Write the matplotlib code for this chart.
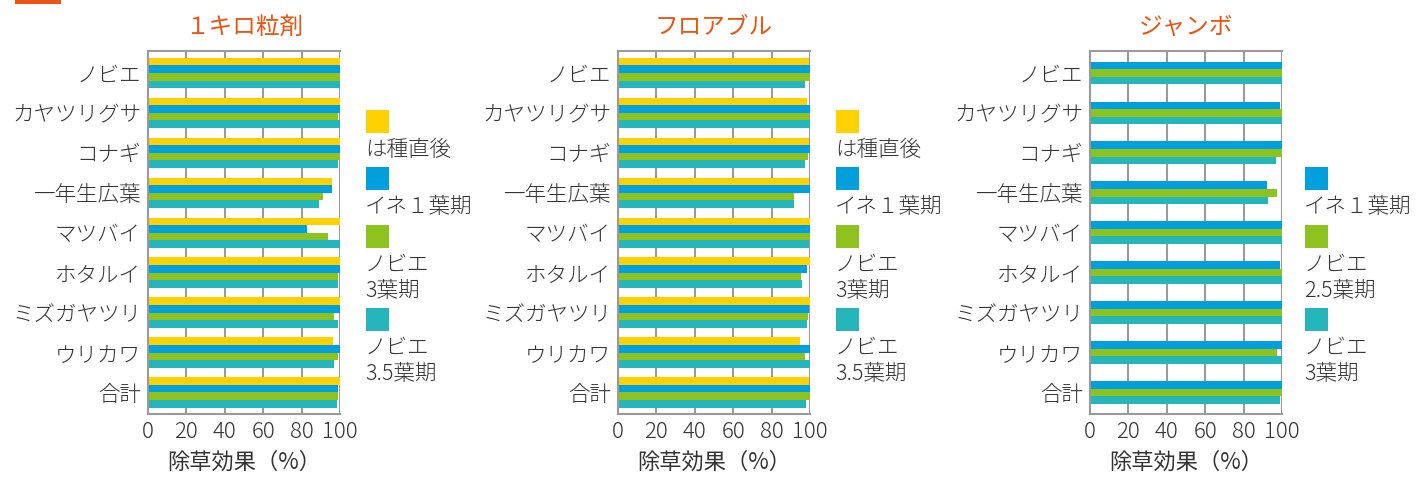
import matplotlib
matplotlib.use("Agg")
import matplotlib.pyplot as plt
from matplotlib.patches import Rectangle

plt.rcParams['font.family'] = ['Noto Sans CJK JP', 'DejaVu Sans']
plt.rcParams['font.weight'] = 'light'

W, H = 1418, 483

CATEGORIES = ["ノビエ", "カヤツリグサ", "コナギ", "一年生広葉", "マツバイ",
              "ホタルイ", "ミズガヤツリ", "ウリカワ", "合計"]

TITLES = ["１キロ粒剤", "フロアブル", "ジャンボ"]

# 除草効果 (%)
KIRO_SOWING = [100, 100, 100, 95.8, 100, 100, 100, 96.4, 100]
KIRO_RICE1 = [100, 100, 100, 95.8, 82.8, 100, 100, 100, 99]
KIRO_NOBIE3 = [100, 99, 100, 91.1, 93.8, 99, 96.9, 99, 99]
KIRO_NOBIE35 = [100, 100, 99, 89.1, 100, 99, 99, 96.9, 98.4]

FLOW_SOWING = [99.5, 98.4, 99.5, 99.5, 100, 100, 100, 94.8, 99.5]
FLOW_RICE1 = [100, 100, 100, 100, 100, 98.4, 99.5, 100, 100]
FLOW_NOBIE3 = [100, 99.5, 99, 91.7, 100, 95.3, 99, 97.4, 100]
FLOW_NOBIE35 = [97.4, 100, 97.4, 91.7, 99.5, 95.8, 98.4, 100, 97.9]

JUMBO_RICE1 = [100, 99, 100, 92.2, 100, 99, 100, 100, 100]
JUMBO_NOBIE25 = [100, 100, 100, 97.4, 100, 100, 100, 97.4, 100]
JUMBO_NOBIE3 = [100, 100, 96.9, 92.7, 100, 100, 100, 100, 99]

LEG_KIRO = [["は種直後"], ["イネ１葉期"], ["ノビエ", "3葉期"], ["ノビエ", "3.5葉期"]]
LEG_FLOW = [["は種直後"], ["イネ１葉期"], ["ノビエ", "3葉期"], ["ノビエ", "3.5葉期"]]
LEG_JUMBO = [["イネ１葉期"], ["ノビエ", "2.5葉期"], ["ノビエ", "3葉期"]]

XTICKS = [0, 20, 40, 60, 80, 100]
XLABEL = "除草効果（%）"

YELLOW = "#FFD100"
BLUE = "#00A0DF"
GREEN = "#8DC21F"
TEAL = "#24B6BB"
ORANGE = "#E95513"
TEXT = "#333333"
GRID = "#9A9A9A"

panels = [
    (148, [KIRO_SOWING, KIRO_RICE1, KIRO_NOBIE3, KIRO_NOBIE35], [YELLOW, BLUE, GREEN, TEAL], LEG_KIRO),
    (618, [FLOW_SOWING, FLOW_RICE1, FLOW_NOBIE3, FLOW_NOBIE35], [YELLOW, BLUE, GREEN, TEAL], LEG_FLOW),
    (1090, [JUMBO_RICE1, JUMBO_NOBIE25, JUMBO_NOBIE3], [BLUE, GREEN, TEAL], LEG_JUMBO),
]

fig = plt.figure(figsize=(W / 100, H / 100), dpi=100)
fig.patch.set_facecolor("white")

# orange marker at the top-left corner
fig.add_artist(Rectangle((15 / W, 1 - 4 / H), 46 / W, 4 / H, transform=fig.transFigure,
                         facecolor=ORANGE, edgecolor="none"))

top_px, bot_px, ax_w = 51, 414, 192
bar_h = 0.19
pos = list(range(len(CATEGORIES)))

for k, (left_px, series, colors, legend) in enumerate(panels):
    ax = fig.add_axes([left_px / W, 1 - bot_px / H, ax_w / W, (bot_px - top_px) / H])
    n = len(series)
    for i, (vals, c) in enumerate(zip(series, colors)):
        off = (i - (n - 1) / 2) * bar_h
        ax.barh([p + off for p in pos], vals, height=bar_h, color=c, zorder=2)
    ax.set_xlim(0, 100)
    ax.set_ylim(8.54, -0.55)
    ax.set_xticks(XTICKS)
    ax.set_yticks(pos)
    ax.set_yticklabels(CATEGORIES)
    ax.tick_params(axis="y", length=0, labelsize=15.5, colors=TEXT, pad=5)
    ax.tick_params(axis="x", length=0, labelsize=16, colors=TEXT, pad=5)
    ax.xaxis.grid(True, color=GRID, linewidth=1.5, zorder=0)
    ax.set_axisbelow(True)
    ax.spines["right"].set_visible(False)
    for s in ["left", "top", "bottom"]:
        ax.spines[s].set_color(GRID)
        ax.spines[s].set_linewidth(1.5)
    ax.set_xlabel(XLABEL, fontsize=16, color=TEXT, labelpad=6)
    ax.set_title(TITLES[k], fontsize=17, color=ORANGE, fontweight="normal", pad=12)

    # legend: square above each text block
    leg_x = left_px + ax_w + (26 if k < 2 else 23)
    start = 0 if n == 4 else 1
    sq_tops = [110, 167, 225, 308]
    for j, lines in enumerate(legend):
        sq_top = sq_tops[start + j]
        fig.add_artist(Rectangle((leg_x / W, 1 - (sq_top + 23) / H), 23 / W, 23 / H,
                                 transform=fig.transFigure, facecolor=colors[j], edgecolor="none"))
        for li, line in enumerate(lines):
            yc = sq_top + 40 + li * 26
            fig.text(leg_x / W - 1 / W, 1 - yc / H, line, fontsize=15.5, color=TEXT,
                     ha="left", va="center")

fig.savefig("out.png", dpi=100, facecolor="white")
